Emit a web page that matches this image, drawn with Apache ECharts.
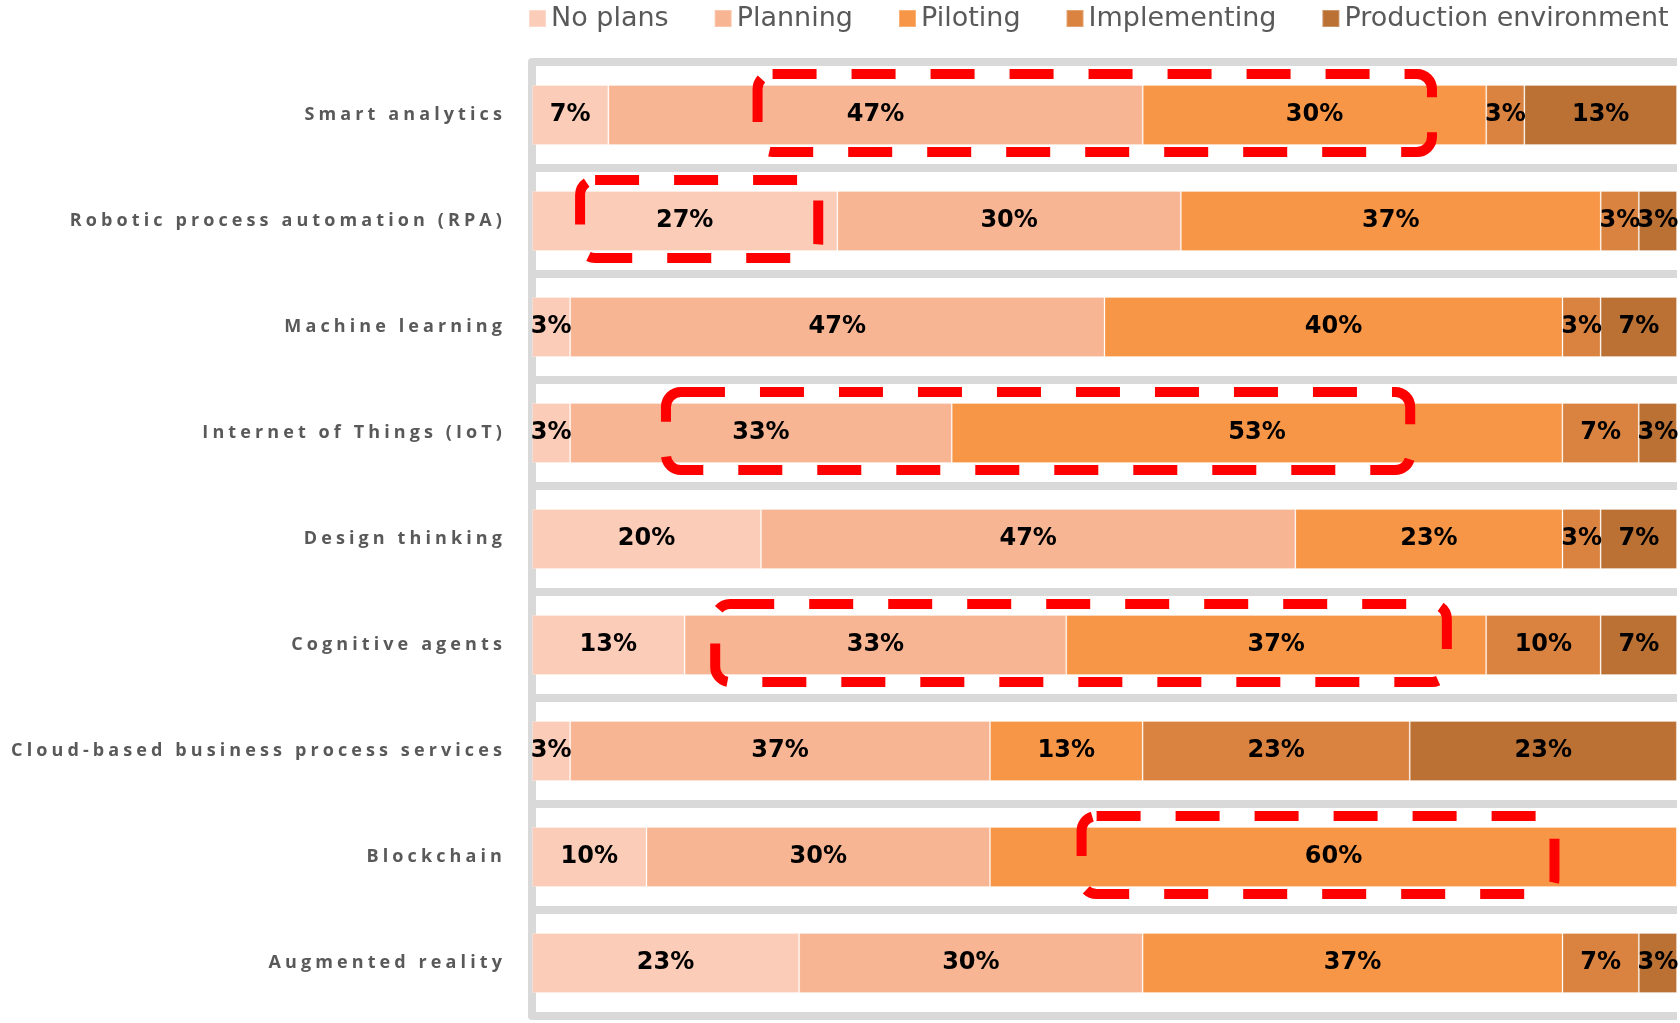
<!DOCTYPE html>
<html>
<head>
<meta charset="utf-8">
<title>Technology adoption stages</title>
<script src="https://cdn.jsdelivr.net/npm/echarts@6/dist/echarts.min.js"></script>
<style>
  html, body { margin: 0; padding: 0; background: #ffffff; }
  #chart { width: 1680px; height: 1023px; }
</style>
</head>
<body>
<div id="chart"></div>
<script>
// Technologies, top to bottom
const categories = [
  'Smart analytics',
  'Robotic process automation (RPA)',
  'Machine learning',
  'Internet of Things (IoT)',
  'Design thinking',
  'Cognitive agents',
  'Cloud-based business process services',
  'Blockchain',
  'Augmented reality'
];

// Share of respondents per adoption stage (%)
const noPlans      = [6.67, 26.67, 3.33, 3.33, 20.00, 13.33, 3.33, 10.00, 23.33];
const planning     = [46.67, 30.00, 46.67, 33.33, 46.67, 33.33, 36.67, 30.00, 30.00];
const piloting     = [30.00, 36.67, 40.00, 53.33, 23.33, 36.67, 13.33, 60.00, 36.67];
const implementing = [3.33, 3.33, 3.33, 6.67, 3.33, 10.00, 23.33, 0, 6.67];
const production   = [13.33, 3.33, 6.67, 3.33, 6.67, 6.67, 23.33, 0, 3.33];

const stageNames = ['No plans', 'Planning', 'Piloting', 'Implementing', 'Production environment'];
const stageColors = ['#FBCDB9', '#F8B593', '#F79646', '#DA8340', '#BB7134'];

// Highlighted ranges: row and start / end along the percentage axis
const noteRows = ['Smart analytics', 'Robotic process automation (RPA)', 'Internet of Things (IoT)', 'Cognitive agents', 'Blockchain'];
const noteFrom = [19.7, 4.2, 11.7, 16.0, 48.0];
const noteTo   = [78.6, 25.0, 76.7, 79.9, 89.3];

// Category labels are drawn with wide tracking; every other text keeps normal spacing
const LABEL_FONT = 'Open Sans';
const nativeFillText = CanvasRenderingContext2D.prototype.fillText;
CanvasRenderingContext2D.prototype.fillText = function (text, x, y, maxWidth) {
  if ('letterSpacing' in this) {
    const want = (this.font && this.font.indexOf(LABEL_FONT) >= 0) ? '4.1px' : '0px';
    if (this.letterSpacing !== want) this.letterSpacing = want;
  }
  return maxWidth === undefined
    ? nativeFillText.call(this, text, x, y)
    : nativeFillText.call(this, text, x, y, maxWidth);
};

const stageData = [noPlans, planning, piloting, implementing, production];

const chart = echarts.init(document.getElementById('chart'), null, { renderer: 'canvas' });

const series = stageNames.map((name, i) => ({
  name: name,
  type: 'bar',
  stack: 'total',
  barWidth: 60,
  data: stageData[i],
  itemStyle: { color: stageColors[i], borderColor: 'rgba(255,255,255,0.25)', borderWidth: 1 },
  label: {
    show: true,
    position: 'inside',
    color: '#000000',
    fontFamily: 'DejaVu Sans',
    fontWeight: 'bold',
    fontSize: 24,
    formatter: p => (p.value > 0 ? Math.round(p.value) + '%' : '')
  },
  emphasis: { disabled: true }
}));

chart.setOption({
  animation: false,
  legend: {
    data: stageNames,
    left: 523,
    top: 0,
    width: 1155,
    itemWidth: 17,
    itemHeight: 17,
    itemGap: 45,
    icon: 'rect',
    selectedMode: false,
    textStyle: {
      color: '#595959',
      fontFamily: 'DejaVu Sans',
      fontSize: 27
    }
  },
  grid: { left: 532, right: 3, top: 62, bottom: 7 },
  xAxis: {
    type: 'value',
    min: 0,
    max: 100,
    show: false
  },
  yAxis: {
    type: 'category',
    inverse: true,
    data: categories,
    offset: 5,
    axisLine: { show: true, lineStyle: { color: '#D9D9D9', width: 8 } },
    axisTick: { show: false },
    axisLabel: {
      margin: 21,
      color: '#595959',
      fontFamily: LABEL_FONT,
      fontWeight: 'bold',
      fontSize: 18
    },
    splitLine: { show: true, lineStyle: { color: '#D9D9D9', width: 8 } }
  },
  series: series
});

// Dashed call-out boxes around the highlighted ranges
function drawNotes() {
  const boxHeight = 78;
  const elements = noteRows.map((row, i) => {
    const a = chart.convertToPixel({ gridIndex: 0 }, [noteFrom[i], row]);
    const b = chart.convertToPixel({ gridIndex: 0 }, [noteTo[i], row]);
    return {
      type: 'rect',
      z: 100,
      silent: true,
      shape: { x: a[0], y: a[1] - 2 - boxHeight / 2, width: b[0] - a[0], height: boxHeight, r: 15 },
      style: { fill: null, stroke: '#FF0000', lineWidth: 10, lineDash: [44, 35] }
    };
  });
  chart.setOption({ graphic: elements });
}
drawNotes();
</script>
</body>
</html>
